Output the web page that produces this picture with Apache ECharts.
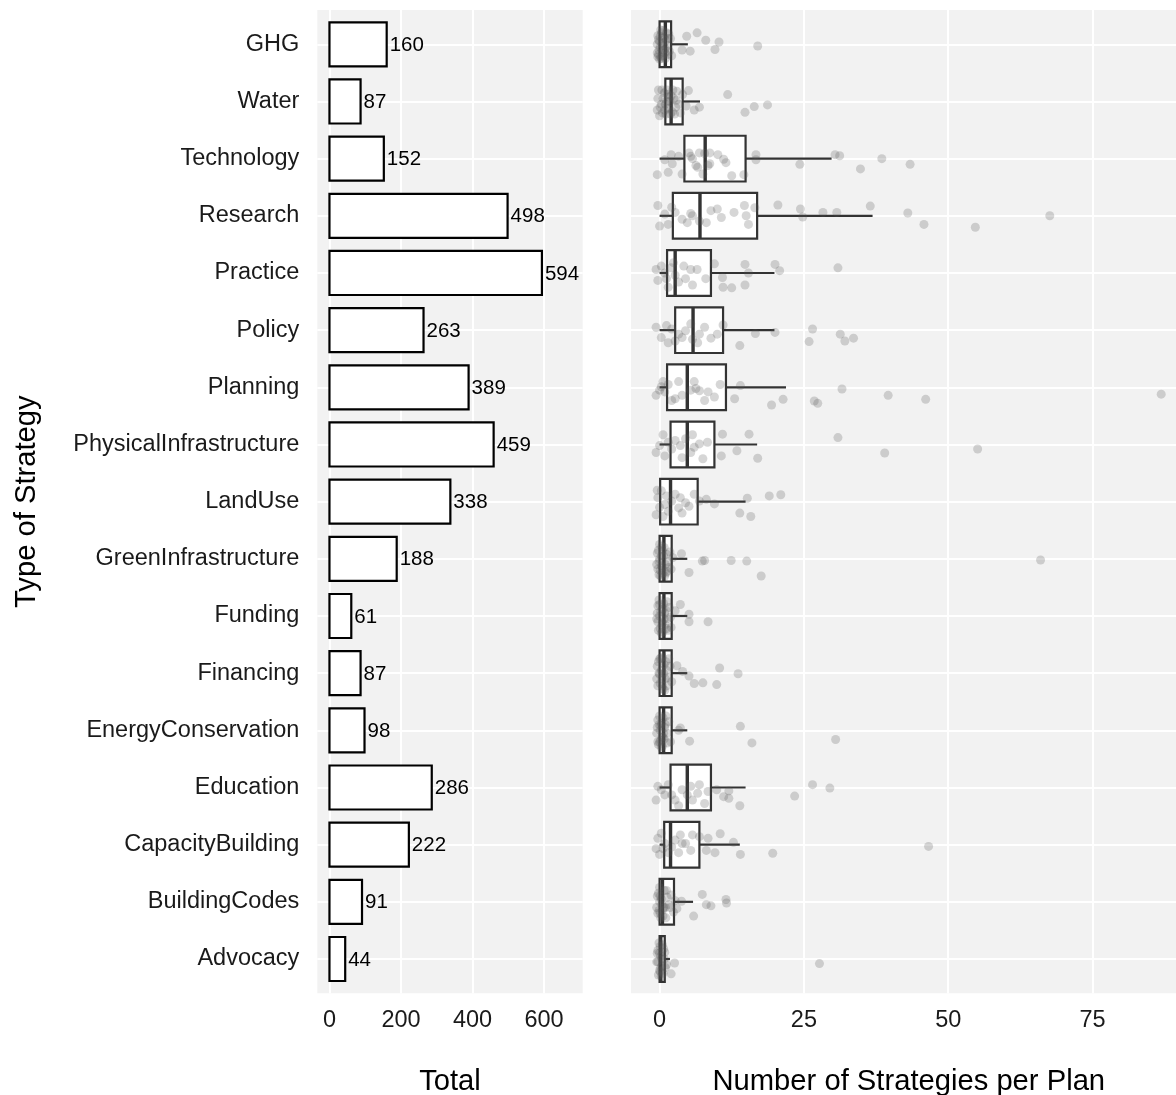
<!DOCTYPE html>
<html>
<head>
<meta charset="utf-8">
<script src="https://cdn.jsdelivr.net/npm/echarts@6/dist/echarts.min.js"></script>
<style>
html,body{margin:0;padding:0;background:#fff;}
#chart{width:1176px;height:1095px;}
</style>
</head>
<body>
<div id="chart"></div>
<script>
// ---------- DATA ----------
const categories = ["GHG","Water","Technology","Research","Practice","Policy","Planning","PhysicalInfrastructure","LandUse","GreenInfrastructure","Funding","Financing","EnergyConservation","Education","CapacityBuilding","BuildingCodes","Advocacy"];
const totals = [160,87,152,498,594,263,389,459,338,188,61,87,98,286,222,91,44];
// box stats per category: [lowerWhisker, Q1, median, Q3, upperWhisker]
const boxStats = [
  [0,0,1,2,4.9],
  [1,1,2,4,7],
  [0,4.3,7.9,14.9,29.8],
  [0,2.3,7,16.9,36.9],
  [0,1.3,2.7,8.9,19.9],
  [0,2.7,5.8,11,19.9],
  [0,1.3,4.8,11.5,21.9],
  [0,1.9,4.8,9.5,16.9],
  [0,0.1,1.9,6.6,14.9],
  [0,0,0.75,2.1,4.8],
  [0,0,0.75,2.1,4.8],
  [0,0,0.75,2.1,4.8],
  [0,0,0.7,2.1,4.8],
  [0,1.9,4.8,8.9,14.9],
  [0,0.8,1.9,6.9,13.9],
  [0,0,0.5,2.5,5.8],
  [0,0,0.2,0.9,1.8]
];
// jittered points per category: [value, vertical jitter (in category units)]
const ptsGHG = [[-0.3,-0.15],[0.1,0.05],[0.3,-0.2],[-0.2,0.18],[0.4,0.1],[0.0,-0.05],[0.6,0.2],[0.8,-0.12],[1.0,0.08],[1.2,-0.2],[0.9,0.15],[1.4,0.02],[1.1,-0.06],[0.2,0.22],[-0.4,0.0],[1.7,0.12],[1.9,-0.1],[2.1,0.2],[0.5,-0.1],[1.6,-0.18],[0.7,0.02],[-0.1,0.1],[0.3,0.25],[0.0,0.26],[-0.3,0.22],[0.2,-0.25],[0.6,-0.24],[1.0,0.25],[1.3,0.18],[0.4,-0.02],[-0.2,-0.08],[0.8,0.1],[1.5,-0.1],[0.1,-0.14],[-0.4,0.15],[3.9,0.1],[5.3,0.12],[4.7,-0.14],[6.5,-0.2],[8.0,-0.07],[9.6,0.09],[10.3,-0.04],[17.0,0.03]];
const ptsWater = [[0.1,0.1],[-0.3,-0.05],[0.5,0.2],[0.8,-0.15],[1.0,0.05],[1.3,-0.2],[1.5,0.12],[1.8,0.0],[2.0,-0.1],[2.2,0.18],[2.5,-0.05],[2.8,0.1],[3.0,-0.18],[3.3,0.05],[3.6,0.2],[4.0,-0.12],[1.1,0.22],[0.4,-0.2],[2.6,0.22],[1.6,-0.08],[-0.4,0.15],[0.0,0.25],[0.6,-0.05],[1.2,0.0],[1.9,0.22],[2.3,-0.2],[0.3,0.05],[-0.2,-0.2],[1.4,-0.12],[0.9,0.15],[2.9,-0.02],[5.0,-0.19],[6.9,0.1],[6.0,0.15],[4.6,0.08],[11.8,-0.12],[16.4,0.09],[14.8,0.19],[18.7,0.06]];
const ptsTechnology = [[24.3,0.1],[30.4,-0.07],[31.2,-0.05],[34.8,0.18],[38.5,0.0],[43.4,0.1],[16.7,-0.07],[16.7,0.02],[14.6,0.28],[12.5,0.3],[11.5,0.07],[11.1,0.01],[8.7,-0.1],[6.9,-0.1],[5.4,-0.04],[7.5,0.27],[3.9,0.27],[1.5,0.24],[-0.4,0.28],[2.0,-0.07],[0.9,0.02],[6.6,0.15],[8.4,0.12],[6.3,0.12],[5.1,-0.1],[7.8,-0.09],[8.7,0.09],[5.7,0.0],[10.1,-0.07],[3.3,-0.04],[2.2,0.09]];
const ptsResearch = [[20.5,-0.19],[24.4,-0.12],[24.8,0.02],[28.3,-0.06],[30.7,-0.06],[36.5,-0.17],[43.0,-0.05],[45.8,0.15],[54.7,0.2],[67.6,0.0],[8.9,-0.09],[10.7,0.03],[15.0,0.0],[15.4,0.15],[16.5,-0.14],[8.1,0.12],[5.7,0.0],[5.4,-0.04],[4.8,0.12],[1.5,0.15],[0.0,0.18],[-0.3,-0.18],[2.1,-0.15],[0.9,-0.03],[2.7,-0.06],[6.9,0.09],[10.0,-0.12],[3.9,0.06],[12.9,-0.06],[14.7,-0.18]];
const ptsPractice = [[30.9,-0.09],[20.0,-0.15],[20.8,-0.04],[14.8,-0.15],[15.4,0.0],[14.8,0.21],[12.5,0.26],[11.0,0.25],[10.9,0.08],[9.5,-0.16],[8.0,0.1],[5.7,0.21],[5.4,-0.06],[6.5,-0.06],[4.2,-0.12],[2.0,-0.09],[-0.6,-0.06],[-0.3,0.13],[0.9,0.0],[1.5,0.25],[2.7,0.04],[0.3,-0.12],[3.3,0.16],[1.2,0.1],[2.4,-0.18],[4.5,0.1]];
const ptsPolicy = [[16.6,0.06],[20.0,0.04],[26.5,-0.02],[25.9,0.2],[31.3,0.07],[32.1,0.19],[33.6,0.14],[13.9,0.27],[11.0,-0.09],[8.9,0.14],[6.6,0.22],[5.7,0.16],[3.9,0.13],[1.2,-0.08],[-0.6,-0.05],[1.5,0.22],[6.9,0.07],[4.5,0.01],[3.3,0.07],[2.1,-0.02],[0.3,0.13],[5.4,-0.11],[7.8,-0.05],[10.0,0.07],[2.7,0.19]];
const ptsPlanning = [[31.6,0.03],[39.6,0.14],[46.1,0.21],[86.9,0.12],[26.8,0.24],[27.4,0.28],[19.4,0.31],[21.4,0.21],[14.0,-0.03],[13.0,0.2],[9.5,0.17],[6.9,0.06],[6.3,0.02],[7.8,0.23],[2.7,0.2],[0.3,-0.01],[-0.6,0.14],[2.1,0.23],[0.9,0.08],[0.0,0.05],[1.5,-0.05],[3.9,0.14],[5.4,0.05],[8.4,0.08],[10.5,-0.05],[6.0,-0.1],[3.3,-0.1],[0.6,-0.1]];
const ptsPhysicalInfrastructure = [[30.9,-0.12],[39.0,0.15],[55.1,0.08],[17.0,0.24],[15.5,-0.18],[13.4,0.11],[10.9,-0.18],[10.7,0.2],[7.5,0.25],[8.3,-0.04],[5.7,-0.17],[6.0,0.05],[3.6,0.02],[0.6,-0.17],[-0.6,0.14],[0.9,0.2],[3.9,0.23],[2.1,0.08],[0.0,0.02],[4.5,-0.1],[2.7,-0.07],[6.9,-0.01],[5.4,0.14],[1.5,-0.04]];
const ptsLandUse = [[19.0,-0.1],[21.0,-0.12],[15.2,-0.06],[13.9,0.2],[15.8,0.26],[9.5,0.04],[8.1,-0.04],[6.0,-0.13],[5.1,0.08],[3.6,-0.07],[3.9,0.2],[-0.3,-0.07],[-0.6,0.23],[0.9,0.05],[0.3,-0.19],[1.5,0.17],[2.1,-0.01],[2.7,-0.13],[0.6,0.26],[4.5,0.02],[6.9,-0.01],[1.2,-0.1],[3.3,0.11],[0.0,0.1],[-0.4,-0.2]];
const ptsGreenInfrastructure = [[66.0,0.02],[7.4,0.04],[7.8,0.03],[12.4,0.03],[15.1,0.04],[17.6,0.3],[5.1,0.24],[3.8,-0.09],[-0.5,0.1],[-0.2,-0.15],[0.1,0.2],[0.3,-0.05],[0.5,0.15],[0.0,0.0],[0.8,-0.2],[1.0,0.1],[1.2,-0.08],[0.6,0.25],[-0.4,-0.1],[1.5,0.05],[1.8,-0.12],[2.0,0.18],[0.2,0.3],[0.9,0.3],[-0.1,0.28],[1.3,0.22],[0.4,-0.22],[2.3,-0.02],[0.0,-0.25],[0.3,0.12],[-0.3,0.18],[0.7,-0.05],[1.1,0.25],[0.5,-0.15],[-0.1,0.05],[1.6,0.15]];
const ptsFunding = [[8.4,0.1],[5.1,0.1],[3.6,-0.2],[5.1,-0.03],[2.7,-0.09],[-0.5,0.05],[-0.3,-0.18],[0.1,0.22],[0.2,-0.08],[0.5,0.12],[0.0,0.0],[0.7,-0.22],[1.0,0.15],[1.1,-0.1],[0.6,0.28],[-0.4,-0.05],[1.4,0.05],[1.7,-0.15],[2.0,0.2],[0.3,0.3],[0.8,0.05],[-0.2,0.25],[1.3,-0.25],[1.9,0.02],[0.0,-0.2],[0.4,0.15],[-0.3,0.1],[0.9,-0.05],[1.2,0.22],[0.6,-0.12],[-0.1,-0.28],[1.5,0.25]];
const ptsFinancing = [[10.4,-0.09],[13.6,0.01],[9.9,0.2],[7.5,0.17],[6.0,0.18],[5.1,0.05],[3.0,-0.13],[4.0,-0.03],[-0.5,0.1],[-0.2,-0.2],[0.1,0.18],[0.3,-0.05],[0.5,0.22],[0.0,0.02],[0.8,-0.15],[1.0,0.1],[1.2,-0.05],[0.6,0.28],[-0.4,-0.12],[1.5,0.08],[1.8,-0.12],[2.1,0.15],[0.2,-0.26],[0.9,0.3],[1.3,0.22],[0.0,-0.25],[0.4,0.1],[-0.3,0.22],[0.7,0.0],[1.1,-0.2],[0.5,-0.28],[-0.1,0.0],[1.6,-0.25]];
const ptsEnergyConservation = [[14.0,-0.07],[16.0,0.22],[30.5,0.16],[3.6,-0.04],[5.2,0.19],[3.3,0.0],[-0.5,0.05],[-0.3,-0.18],[0.0,0.2],[0.2,-0.08],[0.4,0.12],[0.1,0.0],[0.6,-0.22],[0.8,0.15],[1.0,-0.1],[0.5,0.28],[-0.4,-0.05],[1.3,0.05],[1.6,-0.15],[1.9,0.2],[0.3,0.3],[0.7,0.05],[-0.2,0.25],[1.1,-0.25],[0.0,-0.25],[0.3,-0.12],[-0.3,0.2],[0.6,0.12],[0.9,-0.05],[0.2,0.18],[-0.1,-0.1],[1.4,0.22]];
const ptsEducation = [[23.4,0.15],[26.5,-0.05],[29.5,0.01],[13.9,0.32],[12.0,0.06],[12.0,0.19],[7.8,0.28],[5.4,-0.02],[2.7,0.22],[-0.3,-0.02],[-0.6,0.22],[0.9,0.13],[0.3,0.04],[1.5,-0.05],[2.1,0.13],[3.9,0.04],[4.8,0.13],[6.9,-0.05],[8.4,0.07],[5.7,0.22],[3.3,0.32],[11.1,0.16],[9.9,0.04],[6.6,0.1]];
const ptsCapacityBuilding = [[46.6,0.03],[19.6,0.15],[14.0,0.17],[12.8,-0.04],[10.5,-0.19],[9.6,0.14],[8.1,0.1],[8.4,-0.11],[6.9,-0.14],[5.4,0.1],[3.6,-0.17],[-0.3,-0.11],[-0.6,0.07],[2.1,0.04],[0.3,-0.2],[0.9,-0.02],[1.5,0.14],[2.7,-0.08],[4.5,-0.02],[0.0,0.17],[3.3,0.14],[5.7,-0.17],[0.6,0.07],[3.9,-0.02]];
const ptsBuildingCodes = [[7.4,-0.13],[11.5,-0.04],[11.6,0.02],[8.1,0.05],[8.9,0.07],[5.9,0.25],[3.8,-0.01],[-0.5,0.1],[-0.2,-0.15],[0.1,0.2],[0.3,-0.05],[0.5,0.15],[0.0,0.0],[0.8,-0.2],[1.0,0.1],[1.3,-0.08],[0.6,0.25],[-0.4,-0.1],[1.6,0.05],[2.0,-0.12],[2.4,0.18],[0.2,0.28],[1.1,0.28],[2.7,-0.02],[3.0,0.12],[0.0,-0.25],[0.4,0.05],[-0.3,0.2],[0.7,0.1],[1.2,-0.2],[0.1,-0.1],[-0.1,0.15],[1.8,0.1]];
const ptsAdvocacy = [[27.7,0.08],[2.6,0.07],[2.0,0.26],[-0.5,0.05],[-0.3,-0.15],[0.0,0.2],[0.2,-0.05],[0.4,0.12],[0.1,-0.22],[0.6,0.25],[-0.4,-0.1],[0.8,0.0],[1.0,0.15],[0.3,0.3],[-0.2,0.28],[0.7,-0.18],[1.2,0.1],[0.0,-0.1],[0.2,0.15],[-0.3,0.05],[0.5,-0.25],[0.1,0.22],[-0.1,-0.28],[0.4,0.0],[0.9,-0.12]];
const allPoints = [ptsGHG,ptsWater,ptsTechnology,ptsResearch,ptsPractice,ptsPolicy,ptsPlanning,ptsPhysicalInfrastructure,ptsLandUse,ptsGreenInfrastructure,ptsFunding,ptsFinancing,ptsEnergyConservation,ptsEducation,ptsCapacityBuilding,ptsBuildingCodes,ptsAdvocacy];
const totalTicks = [0,200,400,600];
const perPlanTicks = [0,25,50,75];

// ---------- BUILD ----------
const FONT = "'Liberation Sans', Arial, sans-serif";
const catIdx = categories.map((_, i) => i);
const barData = totals.map((v, i) => [i, v]);
const boxData = boxStats.map((s, i) => [i].concat(s));
const scatterData = [];
allPoints.forEach((arr, i) => arr.forEach(p => scatterData.push([p[0], i + p[1]])));

function gridLines(xs) {
  return {
    z: 1, zlevel: 0,
    silent: true, symbol: ['none','none'], animation: false,
    label: {show: false}, emphasis: {disabled: true},
    lineStyle: {color: '#ffffff', width: 2, type: 'solid', opacity: 1},
    data: xs.map(v => ({xAxis: v})).concat(catIdx.map(v => ({yAxis: v})))
  };
}

const BAR_H = 0.77, BOX_H = 0.8;

const option = {
  animation: false,
  backgroundColor: '#ffffff',
  textStyle: {fontFamily: FONT},
  grid: [
    {left: 317.3, top: 10, width: 265.4, height: 983.3, show: true, backgroundColor: '#F2F2F2', borderWidth: 0, containLabel: false, outerBoundsMode: 'none'},
    {left: 631, top: 10, width: 555.6, height: 983.3, show: true, backgroundColor: '#F2F2F2', borderWidth: 0, containLabel: false, outerBoundsMode: 'none'}
  ],
  xAxis: [
    {type: 'value', gridIndex: 0, min: -34, max: 708,
     axisLine: {show: false}, axisTick: {show: false}, splitLine: {show: false},
     axisLabel: {customValues: totalTicks, fontSize: 23.5, color: '#1a1a1a', margin: 15, fontFamily: FONT},
     name: 'Total', nameLocation: 'middle', nameGap: 74,
     nameTextStyle: {fontSize: 29.2, color: '#000', fontFamily: FONT}},
    {type: 'value', gridIndex: 1, min: -4.95, max: 91.3,
     axisLine: {show: false}, axisTick: {show: false}, splitLine: {show: false},
     axisLabel: {customValues: perPlanTicks, fontSize: 23.5, color: '#1a1a1a', margin: 15, fontFamily: FONT},
     name: 'Number of Strategies per Plan', nameLocation: 'middle', nameGap: 74,
     nameTextStyle: {fontSize: 29.2, color: '#000', fontFamily: FONT}}
  ],
  yAxis: [
    {type: 'value', gridIndex: 0, min: -0.6, max: 16.6, inverse: true,
     axisLine: {show: false}, axisTick: {show: false}, splitLine: {show: false},
     axisLabel: {customValues: catIdx, formatter: v => categories[Math.round(v)], fontSize: 23.5, color: '#1a1a1a', margin: 18, fontFamily: FONT},
     name: 'Type of Strategy', nameLocation: 'middle', nameGap: 276, nameRotate: 90,
     nameTextStyle: {fontSize: 29.2, color: '#000', fontFamily: FONT}},
    {type: 'value', gridIndex: 1, min: -0.6, max: 16.6, inverse: true,
     axisLine: {show: false}, axisTick: {show: false}, splitLine: {show: false},
     axisLabel: {show: false}}
  ],
  series: [
    {type: 'scatter', xAxisIndex: 0, yAxisIndex: 0, data: [], z: 1, symbolSize: 0, silent: true,
     markLine: gridLines(totalTicks)},
    {type: 'scatter', xAxisIndex: 1, yAxisIndex: 1, data: [], z: 1, symbolSize: 0, silent: true,
     markLine: gridLines(perPlanTicks)},
    {type: 'custom', xAxisIndex: 0, yAxisIndex: 0, z: 5, silent: true,
     encode: {x: 1, y: 0},
     data: barData,
     renderItem: function (params, api) {
       const i = api.value(0), v = api.value(1);
       const a = api.coord([0, i - BAR_H / 2]);
       const b = api.coord([v, i + BAR_H / 2]);
       const c = api.coord([v, i]);
       const y0 = Math.min(a[1], b[1]);
       return {type: 'group', children: [
         {type: 'rect', shape: {x: a[0], y: y0, width: b[0] - a[0], height: Math.abs(b[1] - a[1])},
          style: {fill: '#ffffff', stroke: '#000000', lineWidth: 2.2}},
         {type: 'text', x: c[0] + 3, y: c[1] + 1,
          style: {text: String(v), fontSize: 20.5, fill: '#000', align: 'left', verticalAlign: 'middle', fontFamily: FONT}}
       ]};
     }},
    {type: 'custom', xAxisIndex: 1, yAxisIndex: 1, z: 5, silent: true,
     encode: {x: [1,2,3,4,5], y: 0},
     data: boxData,
     renderItem: function (params, api) {
       const i = api.value(0);
       const lo = api.value(1), q1 = api.value(2), md = api.value(3), q3 = api.value(4), hi = api.value(5);
       const t = api.coord([q1, i - BOX_H / 2]);
       const b = api.coord([q3, i + BOX_H / 2]);
       const y0 = Math.min(t[1], b[1]), h = Math.abs(b[1] - t[1]);
       const pLo = api.coord([lo, i]), pQ1 = api.coord([q1, i]), pQ3 = api.coord([q3, i]), pHi = api.coord([hi, i]);
       const pMd = api.coord([md, i]);
       const stroke = '#333333';
       return {type: 'group', children: [
         {type: 'line', shape: {x1: pLo[0], y1: pLo[1], x2: pQ1[0], y2: pQ1[1]}, style: {stroke: stroke, lineWidth: 2.2}},
         {type: 'line', shape: {x1: pQ3[0], y1: pQ3[1], x2: pHi[0], y2: pHi[1]}, style: {stroke: stroke, lineWidth: 2.2}},
         {type: 'rect', shape: {x: t[0], y: y0, width: b[0] - t[0], height: h}, style: {fill: '#ffffff', stroke: stroke, lineWidth: 2.2}},
         {type: 'line', shape: {x1: pMd[0], y1: y0, x2: pMd[0], y2: y0 + h}, style: {stroke: stroke, lineWidth: 3.4}}
       ]};
     }},
    {type: 'scatter', xAxisIndex: 1, yAxisIndex: 1, z: 6, silent: true,
     data: scatterData, symbol: 'circle', symbolSize: 9,
     itemStyle: {color: 'rgba(85,85,85,0.3)', borderWidth: 0}}
  ]
};

const chart = echarts.init(document.getElementById('chart'), null, {renderer: 'canvas'});
chart.setOption(option);
</script>
</body>
</html>
